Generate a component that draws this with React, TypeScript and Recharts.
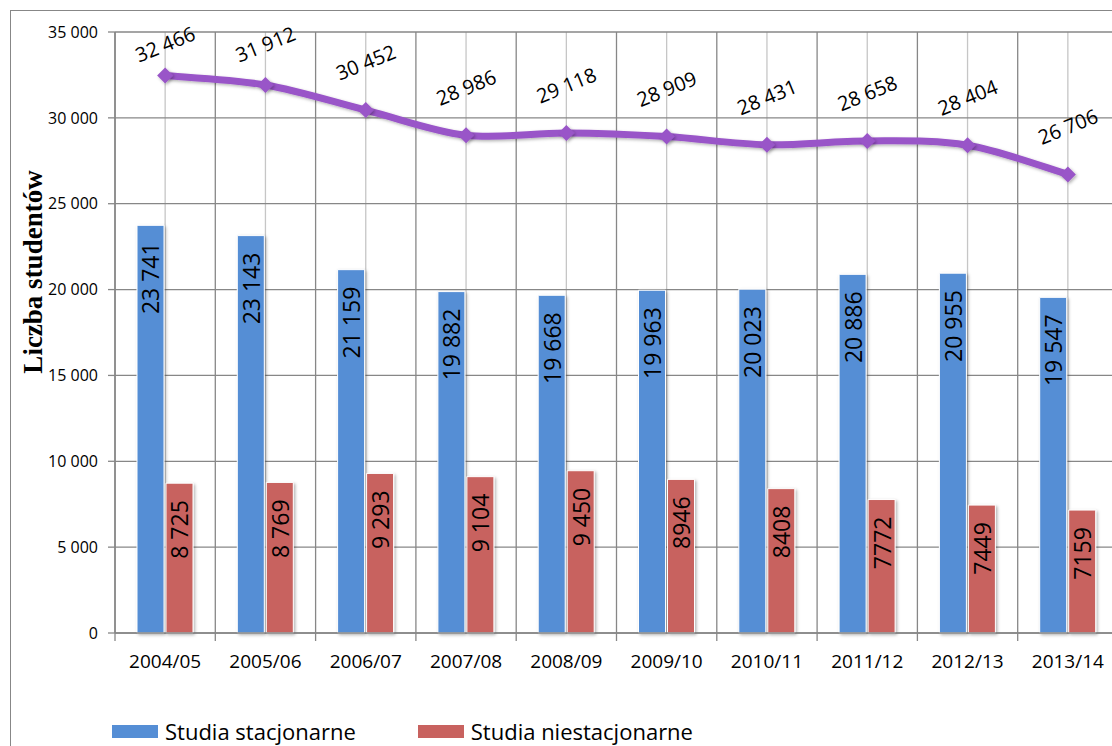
import React from 'react';
import {
  Bar,
  CartesianGrid,
  ComposedChart,
  LabelList,
  Legend,
  Line,
  XAxis,
  YAxis,
} from 'recharts';

const lata = ['2004/05', '2005/06', '2006/07', '2007/08', '2008/09', '2009/10', '2010/11', '2011/12', '2012/13', '2013/14'];
const stacjonarne = [23741, 23143, 21159, 19882, 19668, 19963, 20023, 20886, 20955, 19547];
const niestacjonarne = [8725, 8769, 9293, 9104, 9450, 8946, 8408, 7772, 7449, 7159];
const razem = [32466, 31912, 30452, 28986, 29118, 28909, 28431, 28658, 28404, 26706];
// the source formats the part-time labels inconsistently
const niestacjonarneEtykiety = ['8 725', '8 769', '9 293', '9 104', '9 450', '8946', '8408', '7772', '7449', '7159'];
const yTicks = [0, 5000, 10000, 15000, 20000, 25000, 30000, 35000];
const legendOrder = ['stacjonarne', 'niestacjonarne'];

const data = lata.map((rok, i) => ({
  rok,
  stacjonarne: stacjonarne[i],
  niestacjonarne: niestacjonarne[i],
  razem: razem[i],
  etykieta: niestacjonarneEtykiety[i],
}));

const BLUE = '#558ed5';
const RED = '#c8625f';
const PURPLE = '#9954c8';
const GRID = '#878787';
const FONT = "'Open Sans', 'Noto Sans', sans-serif";

const PLOT_LEFT = 115;
const PLOT_RIGHT = 1118;
const BAND = (PLOT_RIGHT - PLOT_LEFT) / lata.length;

const fmt = (v: number) => String(v).replace(/\B(?=(\d{3})+(?!\d))/g, ' ');

// Excel-like smoothed line (cardinal bezier, tangent = (next - prev) / 6)
const excelCurve = (context: any) => {
  let pts: [number, number][] = [];
  return {
    areaStart() {},
    areaEnd() {},
    lineStart() {
      pts = [];
    },
    lineEnd() {
      const n = pts.length;
      if (!n) return;
      context.moveTo(pts[0][0], pts[0][1]);
      for (let i = 0; i < n - 1; i++) {
        const p0 = pts[Math.max(i - 1, 0)];
        const p1 = pts[i];
        const p2 = pts[i + 1];
        const p3 = pts[Math.min(i + 2, n - 1)];
        context.bezierCurveTo(
          p1[0] + (p2[0] - p0[0]) / 6,
          p1[1] + (p2[1] - p0[1]) / 6,
          p2[0] - (p3[0] - p1[0]) / 6,
          p2[1] - (p3[1] - p1[1]) / 6,
          p2[0],
          p2[1]
        );
      }
    },
    point(x: number, y: number) {
      pts.push([+x, +y]);
    },
  };
};

const BarLabel = (props: any) => {
  const { x, y, width, value } = props;
  const cx = Number(x) + Number(width) / 2;
  const ty = Number(y) + 17;
  return (
    <text
      x={cx}
      y={ty}
      transform={`rotate(-90 ${cx} ${ty})`}
      textAnchor='end'
      dominantBaseline='central'
      fontSize={23}
      fontFamily={FONT}
      fill='#000'
    >
      {typeof value === 'number' ? fmt(value) : value}
    </text>
  );
};

const LineLabel = (props: any) => {
  const { x, y, value } = props;
  const ly = Math.max(Number(y) - 48, 44);
  return (
    <text
      x={x}
      y={ly}
      transform={`rotate(-22 ${x} ${ly})`}
      textAnchor='middle'
      dominantBaseline='central'
      fontSize={20}
      fontFamily={FONT}
      fill='#000'
    >
      {fmt(Number(value))}
    </text>
  );
};

const Diamond = (props: any) => {
  const { cx, cy } = props;
  if (cx == null || cy == null) return null;
  const r = 8;
  return (
    <path
      d={`M${cx},${cy - r}L${cx + r},${cy}L${cx},${cy + r}L${cx - r},${cy}Z`}
      fill={PURPLE}
      filter='url(#cien)'
    />
  );
};

const XTick = (props: any) => {
  const { x, y, payload, index } = props;
  const left = x - BAND / 2;
  return (
    <g>
      <line x1={left} y1={y - 8} x2={left} y2={y} stroke={GRID} strokeWidth={1.3} />
      {index === lata.length - 1 && (
        <line x1={x + BAND / 2} y1={y - 8} x2={x + BAND / 2} y2={y} stroke={GRID} strokeWidth={1.3} />
      )}
      <text x={x} y={y + 27} textAnchor='middle' fontSize={19} fontFamily={FONT} fill='#000'>
        {payload.value}
      </text>
    </g>
  );
};

const renderLegend = (props: any) => {
  const items = (props.payload || [])
    .filter((p: any) => p.type !== 'none')
    .sort((a: any, b: any) => legendOrder.indexOf(a.dataKey) - legendOrder.indexOf(b.dataKey));
  return (
    <div style={{ display: 'flex', alignItems: 'center', fontFamily: FONT, fontSize: 22, lineHeight: '26px' }}>
      {items.map((p: any, i: number) => (
        <div key={p.value} style={{ display: 'flex', alignItems: 'center', marginRight: i === 0 ? 62 : 0 }}>
          <span style={{ display: 'inline-block', width: 46, height: 13, background: p.color, marginRight: 7 }} />
          <span style={{ color: '#000', whiteSpace: 'nowrap' }}>{p.value}</span>
        </div>
      ))}
    </div>
  );
};

export default function App() {
  return (
    <div
      style={{
        position: 'absolute',
        left: 0,
        top: 0,
        width: 1112,
        height: 746,
        overflow: 'hidden',
        background: '#fff',
      }}
    >
      <div
        style={{
          position: 'absolute',
          left: 10,
          top: 10,
          width: 1130,
          height: 760,
          border: `1.3px solid ${GRID}`,
        }}
      />
      <div style={{ position: 'absolute', left: 0, top: 0 }}>
        <ComposedChart
          width={1130}
          height={746}
          data={data}
          margin={{ top: 32, right: 1130 - PLOT_RIGHT, left: 0, bottom: 73 }}
          barSize={27}
          barGap={2}
        >
          <defs>
            <filter id='cien' x='-20%' y='-20%' width='160%' height='160%'>
              <feDropShadow dx='1.5' dy='1.5' stdDeviation='1.5' floodColor='#000' floodOpacity='0.3' />
            </filter>
          </defs>
          <CartesianGrid horizontal={false} stroke='#c6c6c6' strokeWidth={1.3} />
          <CartesianGrid
            stroke={GRID}
            strokeWidth={1.3}
            verticalCoordinatesGenerator={({ offset }: any) => {
              const left = offset?.left ?? PLOT_LEFT;
              const w = offset?.width ?? PLOT_RIGHT - PLOT_LEFT;
              return Array.from({ length: lata.length + 1 }, (_, i) => left + (i * w) / lata.length);
            }}
          />
          <XAxis
            dataKey='rok'
            interval={0}
            height={40}
            tickSize={8}
            tickMargin={0}
            tickLine={false}
            axisLine={{ stroke: GRID, strokeWidth: 1.3 }}
            tick={<XTick />}
          />
          <YAxis
            domain={[0, 35000]}
            ticks={yTicks}
            interval={0}
            width={PLOT_LEFT}
            tickSize={7}
            tickMargin={10}
            tickFormatter={fmt}
            axisLine={{ stroke: GRID, strokeWidth: 1.3 }}
            tickLine={{ stroke: GRID, strokeWidth: 1.3 }}
            tick={{ fontSize: 16, fill: '#000', fontFamily: FONT }}
            label={{
              content: () => (
                <text
                  x={42}
                  y={272}
                  transform='rotate(-90 42 272)'
                  textAnchor='middle'
                  fontSize={27}
                  fontWeight='bold'
                  fontFamily="'Liberation Serif', 'DejaVu Serif', serif"
                  fill='#000'
                >
                  Liczba studentów
                </text>
              ),
            }}
          />
          <Legend
            layout='horizontal'
            verticalAlign='middle'
            align='center'
            wrapperStyle={{ top: 718, left: 112, width: 'auto', height: 26 }}
            content={renderLegend}
          />
          <Bar
            dataKey='stacjonarne'
            name='Studia stacjonarne'
            fill={BLUE}
            stroke='#fff'
            strokeWidth={1}
            filter='url(#cien)'
            isAnimationActive={false}
          >
            <LabelList dataKey='stacjonarne' content={<BarLabel />} />
          </Bar>
          <Bar
            dataKey='niestacjonarne'
            name='Studia niestacjonarne'
            fill={RED}
            stroke='#fff'
            strokeWidth={1}
            filter='url(#cien)'
            isAnimationActive={false}
          >
            <LabelList dataKey='etykieta' content={<BarLabel />} />
          </Bar>
          <Line
            dataKey='razem'
            type={excelCurve as any}
            stroke={PURPLE}
            strokeWidth={7}
            dot={<Diamond />}
            activeDot={false}
            legendType='none'
            filter='url(#cien)'
            isAnimationActive={false}
          >
            <LabelList dataKey='razem' content={<LineLabel />} />
          </Line>
        </ComposedChart>
      </div>
    </div>
  );
}
